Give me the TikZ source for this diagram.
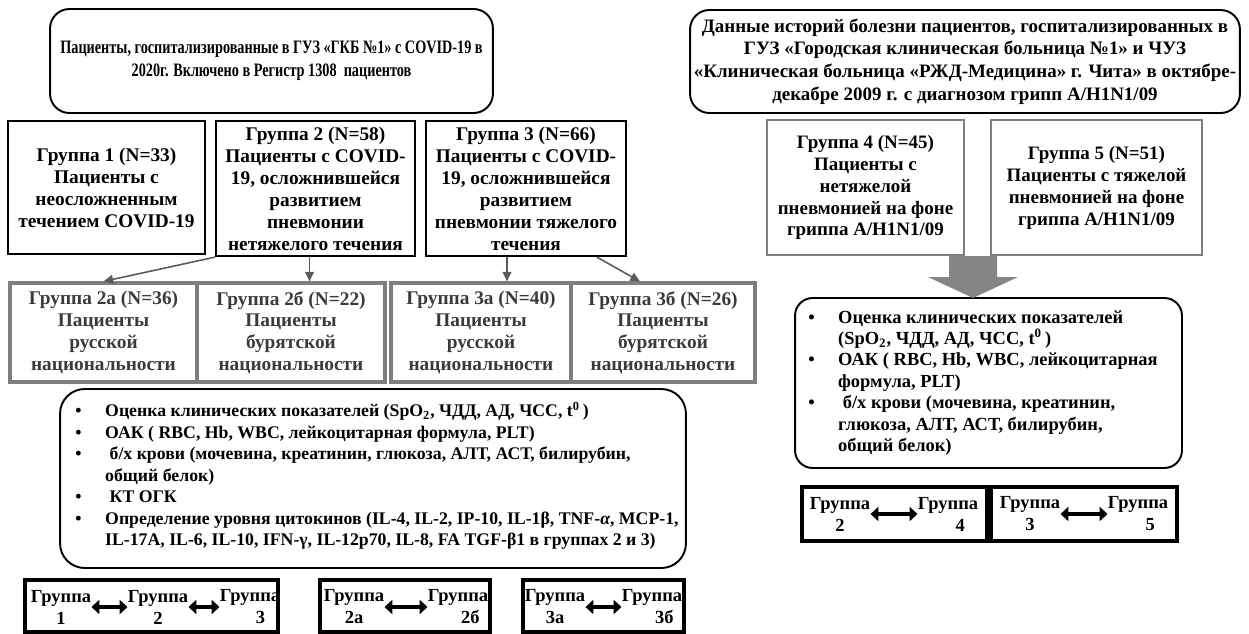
\documentclass[tikz,border=0pt]{standalone}
\usepackage{fontspec}
\setmainfont{Liberation Serif}
\newfontfamily\narrowbold[FakeStretch=0.75]{Liberation Serif Bold}
\usetikzlibrary{arrows.meta,calc}
\definecolor{gline}{HTML}{7F7F7F}
\definecolor{gtext}{HTML}{3A3A3A}
\definecolor{garrow}{HTML}{5A5A5A}
\definecolor{bigarrow}{HTML}{858585}
\newcommand{\bl}{\makebox[17pt][l]{•}}
\newcommand{\ind}{\hspace*{17pt}}
\begin{document}
\begin{tikzpicture}[x=0.02cm,y=-0.02cm,
  every node/.style={font=\bfseries\fontsize{10.5}{12.5}\selectfont, inner sep=0pt, align=center},
  rbox/.style={draw, line width=1.1pt, rounded corners=11pt},
  bbox/.style={draw, line width=1.3pt, font=\bfseries\fontsize{11}{12.5}\selectfont},
  gbox/.style={draw=gline, line width=1.8pt, text=gtext, font=\bfseries\fontsize{11}{12.4}\selectfont},
  gbox2/.style={draw=gline, line width=1.2pt, font=\bfseries\fontsize{10.8}{12.5}\selectfont},
  cbox/.style={draw, line width=1.8pt},
  conn/.style={draw=garrow, line width=0.9pt, -{Triangle[length=5.5pt,width=5pt]}},
  dbl/.style={line width=2.3pt, {Triangle[length=4.5pt,width=8pt]}-{Triangle[length=4.5pt,width=8pt]}},
  listfont/.style={font=\bfseries\fontsize{10.1}{12.2}\selectfont, align=left}
]
\useasboundingbox (0,0) rectangle (1249,633);

% ---------- left part ----------
\node[rbox, minimum width=8.86cm, minimum height=2.08cm,
  font=\narrowbold\fontsize{10.8}{13}\selectfont] (top) at (271.5,61)
  {Пациенты, госпитализированные в ГУЗ «ГКБ №1» с COVID-19 в\\2020г. Включено в Регистр 1308\ \ пациентов};

\node[bbox, minimum width=3.94cm, minimum height=2.66cm] (g1) at (106.5,187.5)
  {Группа 1 (N=33)\\Пациенты с\\неосложненным\\течением COVID-19};
\node[bbox, minimum width=3.98cm, minimum height=2.70cm] (g2) at (315.5,188.5)
  {Группа 2 (N=58)\\Пациенты с COVID-\\19, осложнившейся\\развитием\\пневмонии\\нетяжелого течения};
\node[bbox, minimum width=4.0cm, minimum height=2.70cm] (g3) at (526,188.5)
  {Группа 3 (N=66)\\Пациенты с COVID-\\19, осложнившейся\\развитием\\пневмонии тяжелого\\течения};

\node[gbox, minimum width=3.74cm, minimum height=1.98cm] (g2a) at (103.5,332.5)
  {Группа 2а (N=36)\\Пациенты\\русской\\национальности};
\node[gbox, minimum width=3.76cm, minimum height=1.98cm] (g2b) at (291,332.5)
  {Группа 2б (N=22)\\Пациенты\\бурятской\\национальности};
\node[gbox, minimum width=3.6cm, minimum height=1.98cm] (g3a) at (481,332.5)
  {Группа 3а (N=40)\\Пациенты\\русской\\национальности};
\node[gbox, minimum width=3.68cm, minimum height=1.98cm] (g3b) at (663,332.5)
  {Группа 3б (N=26)\\Пациенты\\бурятской\\национальности};

\draw[conn] (g2.south west) -- (g2a.north);
\draw[conn] ([xshift=-0.12cm]g2.south) -- ([xshift=-0.12cm]g2.south |- g2b.north);
\draw[conn] ([xshift=-0.38cm]g3.south) -- ([xshift=-0.38cm]g3.south |- g3a.north);
\draw[conn] ([xshift=1.42cm]g3.south) -- ([xshift=-0.46cm]g3b.north);

\node[rbox, rounded corners=14pt, minimum width=12.52cm, minimum height=3.58cm] (lbox) at (373,478.5) {};
\node[listfont, anchor=north west] (llist) at (75,402) {%
\bl Оценка клинических показателей (SpO\textsubscript{2}, ЧДД, АД, ЧСС, t\textsuperscript{0}\,)\\
\bl ОАК ( RBC, Hb, WBC, лейкоцитарная формула, PLT)\\
\bl\ б/х крови (мочевина, креатинин, глюкоза, АЛТ, АСТ, билирубин,\\
\ind общий белок)\\
\bl\ КТ ОГК\\
\bl Определение уровня цитокинов (IL-4, IL-2, IP-10, IL-1β, TNF-\textit{α}, MCP-1,\\
\ind IL-17A, IL-6, IL-10, IFN-γ, IL-12p70, IL-8, FA TGF-β1 в группах 2 и 3)};

\node[cbox, minimum width=5.06cm, minimum height=1.04cm] (c1) at (151.5,606) {};
\node (c1a) at (61,607) {Группа\\1};
\node (c1b) at (158,607) {Группа\\2};
\node (c1c) at (250,607) {Группа\\\hspace*{12pt}3};
\draw[dbl] (c1a.east) -- (c1b.west);
\draw[dbl] (c1b.east) -- (c1c.west);

\node[cbox, minimum width=3.4cm, minimum height=1.04cm] (c2) at (405,606) {};
\node (c2a) at (354,607) {Группа\\2а};
\node (c2b) at (458,607) {Группа\\\hspace*{14pt}2б};
\draw[dbl] (c2a.east) -- (c2b.west);

\node[cbox, minimum width=3.22cm, minimum height=1.04cm] (c3) at (603.5,606) {};
\node (c3a) at (555,607) {Группа\\3а};
\node (c3b) at (652,607) {Группа\\\hspace*{14pt}3б};
\draw[dbl] (c3a.east) -- (c3b.west);

% ---------- right part ----------
\node[rbox, minimum width=11.0cm, minimum height=2.06cm,
  font=\bfseries\fontsize{10.8}{13}\selectfont] (topr) at (965,61.5)
  {Данные историй болезни пациентов, госпитализированных в\\ГУЗ «Городская клиническая больница №1» и ЧУЗ\\«Клиническая больница «РЖД-Медицина» г. Чита» в октябре-\\декабре 2009 г. с диагнозом грипп A/H1N1/09};

\node[gbox2, minimum width=3.94cm, minimum height=2.7cm] (g4) at (865.5,187.5)
  {Группа 4 (N=45)\\Пациенты с\\нетяжелой\\пневмонией на фоне\\гриппа A/H1N1/09};
\node[gbox2, minimum width=4.22cm, minimum height=2.7cm] (g5) at (1096.5,187.5)
  {Группа 5 (N=51)\\Пациенты с тяжелой\\пневмонией на фоне\\гриппа A/H1N1/09};

\node[rbox, rounded corners=10pt, minimum width=7.74cm, minimum height=3.4cm] (rbox) at (988.5,383) {};
\fill[bigarrow] (949,256) -- (997,256) -- (997,277) -- (1018,277) -- (973,298) -- (928,277) -- (949,277) -- cycle;
\node[listfont, font=\bfseries\fontsize{10.5}{12.2}\selectfont, anchor=north west] (rlist) at (808,310) {%
\bl Оценка клинических показателей\\
\ind (SpO\textsubscript{2}, ЧДД, АД, ЧСС, t\textsuperscript{0}\,)\\
\bl ОАК ( RBC, Hb, WBC, лейкоцитарная\\
\ind формула, PLT)\\
\bl\ б/х крови (мочевина, креатинин,\\
\ind глюкоза, АЛТ, АСТ, билирубин,\\
\ind общий белок)};

\node[cbox, minimum width=3.7cm, minimum height=1.08cm] (c4) at (894.5,514) {};
\node (c4a) at (840,514) {Группа\\2};
\node (c4b) at (948,514) {Группа\\\hspace*{14pt}4};
\draw[dbl] (c4a.east) -- (c4b.west);

\node[cbox, minimum width=3.72cm, minimum height=1.08cm] (c5) at (1084,514) {};
\node (c5a) at (1030,514) {Группа\\3};
\node (c5b) at (1138,514) {Группа\\\hspace*{14pt}5};
\draw[dbl] (c5a.east) -- (c5b.west);
\end{tikzpicture}
\end{document}
